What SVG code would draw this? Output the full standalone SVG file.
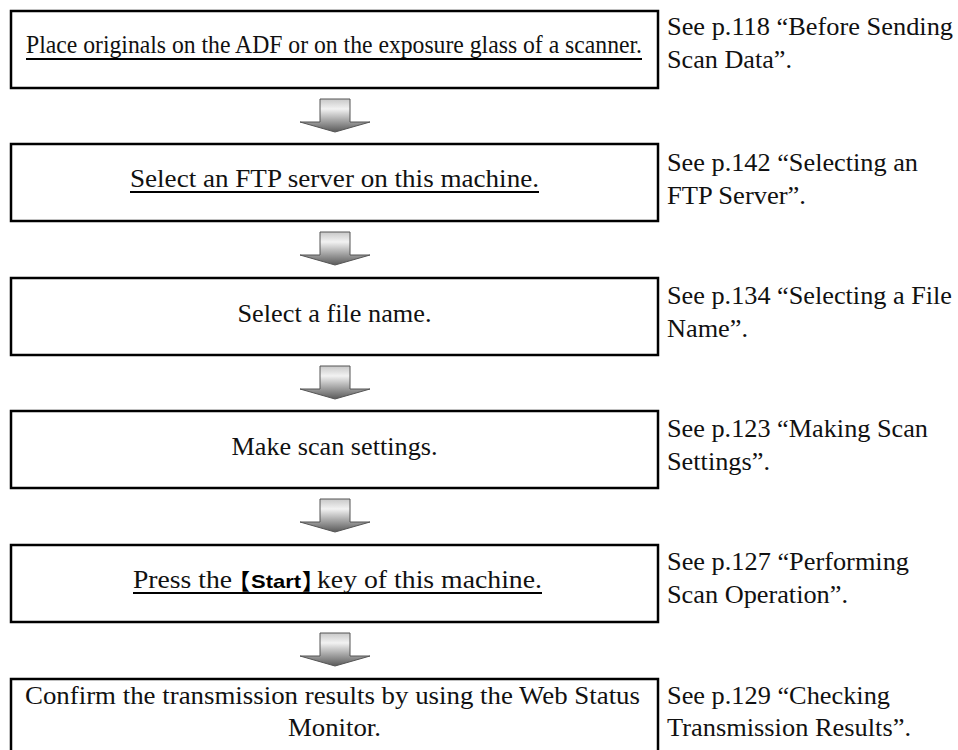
<svg xmlns="http://www.w3.org/2000/svg" width="958" height="750" viewBox="0 0 958 750">
<defs>
<linearGradient id="ag" x1="0" y1="0" x2="0" y2="1">
<stop offset="0" stop-color="#c8c8c8"/>
<stop offset="0.3" stop-color="#f2f2f2"/>
<stop offset="0.7" stop-color="#9a9a9a"/>
<stop offset="1" stop-color="#5a5a5a"/>
</linearGradient>
<style>
.box{fill:#fff;stroke:#000;stroke-width:2.5}
.t{font-family:"Liberation Serif","Times New Roman",serif;font-size:25px;fill:#111}
.r{font-family:"Liberation Serif","Times New Roman",serif;font-size:25px;fill:#111}
.ul{stroke:#000;stroke-width:2}
.arr{fill:url(#ag);stroke:#555;stroke-width:1}
.key{font-family:"Liberation Sans",Arial,sans-serif;font-weight:bold;font-size:19px;fill:#000}
.br{font-family:"Noto Sans CJK JP",sans-serif;font-weight:bold;font-size:22px;fill:#000;font-feature-settings:"halt"}
</style>
</defs>
<rect width="958" height="750" fill="#fff"/>

<g id="connectors">
<path class="arr" d="M320,99 H350 V122 H370 L335,132 L300,122 H320 Z"/>
<path class="arr" d="M320,232 H350 V255 H370 L335,265 L300,255 H320 Z"/>
<path class="arr" d="M320,366 H350 V389 H370 L335,399 L300,389 H320 Z"/>
<path class="arr" d="M320,499 H350 V522 H370 L335,532 L300,522 H320 Z"/>
<path class="arr" d="M320,633 H350 V656 H370 L335,666 L300,656 H320 Z"/>
</g>

<g id="step1">
<rect class="box" x="11" y="11" width="647" height="77"/>
<text class="t" x="26" y="53" textLength="616" lengthAdjust="spacingAndGlyphs">Place originals on the ADF or on the exposure glass of a scanner.</text>
<line class="ul" x1="26" y1="59" x2="642" y2="59"/>
</g>
<g id="ref1">
<text class="r" x="667" y="35" textLength="286" lengthAdjust="spacingAndGlyphs">See p.118 “Before Sending</text>
<text class="r" x="667" y="68" textLength="125" lengthAdjust="spacingAndGlyphs">Scan Data”.</text>
</g>

<g id="step2">
<rect class="box" x="11" y="144" width="647" height="77"/>
<text class="t" x="130" y="187" textLength="409" lengthAdjust="spacingAndGlyphs">Select an FTP server on this machine.</text>
<line class="ul" x1="130" y1="192" x2="539" y2="192"/>
</g>
<g id="ref2">
<text class="r" x="667" y="171" textLength="251" lengthAdjust="spacingAndGlyphs">See p.142 “Selecting an</text>
<text class="r" x="667" y="204" textLength="139" lengthAdjust="spacingAndGlyphs">FTP Server”.</text>
</g>

<g id="step3">
<rect class="box" x="11" y="278" width="647" height="77"/>
<text class="t" x="237.5" y="322" textLength="194" lengthAdjust="spacingAndGlyphs">Select a file name.</text>
</g>
<g id="ref3">
<text class="r" x="667" y="304" textLength="285" lengthAdjust="spacingAndGlyphs">See p.134 “Selecting a File</text>
<text class="r" x="667" y="337" textLength="81" lengthAdjust="spacingAndGlyphs">Name”.</text>
</g>

<g id="step4">
<rect class="box" x="11" y="411" width="647" height="77"/>
<text class="t" x="231.5" y="455" textLength="206" lengthAdjust="spacingAndGlyphs">Make scan settings.</text>
</g>
<g id="ref4">
<text class="r" x="667" y="437" textLength="261" lengthAdjust="spacingAndGlyphs">See p.123 “Making Scan</text>
<text class="r" x="667" y="470" textLength="103" lengthAdjust="spacingAndGlyphs">Settings”.</text>
</g>

<g id="step5">
<rect class="box" x="11" y="545" width="647" height="77"/>
<text class="t" x="133" y="588" textLength="99" lengthAdjust="spacingAndGlyphs">Press the</text>
<text y="589"><tspan class="br" x="239">【</tspan><tspan class="key" x="251" y="588" textLength="50" lengthAdjust="spacingAndGlyphs">Start</tspan><tspan class="br" x="302" y="589">】</tspan></text>
<text class="t" x="317" y="588" textLength="225" lengthAdjust="spacingAndGlyphs">key of this machine.</text>
<line class="ul" x1="133" y1="593" x2="542" y2="593"/>
</g>
<g id="ref5">
<text class="r" x="667" y="570" textLength="242" lengthAdjust="spacingAndGlyphs">See p.127 “Performing</text>
<text class="r" x="667" y="603" textLength="181" lengthAdjust="spacingAndGlyphs">Scan Operation”.</text>
</g>

<g id="step6">
<rect class="box" x="11" y="679" width="647" height="90"/>
<text class="t" x="25" y="704" textLength="615" lengthAdjust="spacingAndGlyphs">Confirm the transmission results by using the Web Status</text>
<text class="t" x="288" y="736" textLength="93" lengthAdjust="spacingAndGlyphs">Monitor.</text>
</g>
<g id="ref6">
<text class="r" x="667" y="704" textLength="223" lengthAdjust="spacingAndGlyphs">See p.129 “Checking</text>
<text class="r" x="667" y="736" textLength="244" lengthAdjust="spacingAndGlyphs">Transmission Results”.</text>
</g>
</svg>
